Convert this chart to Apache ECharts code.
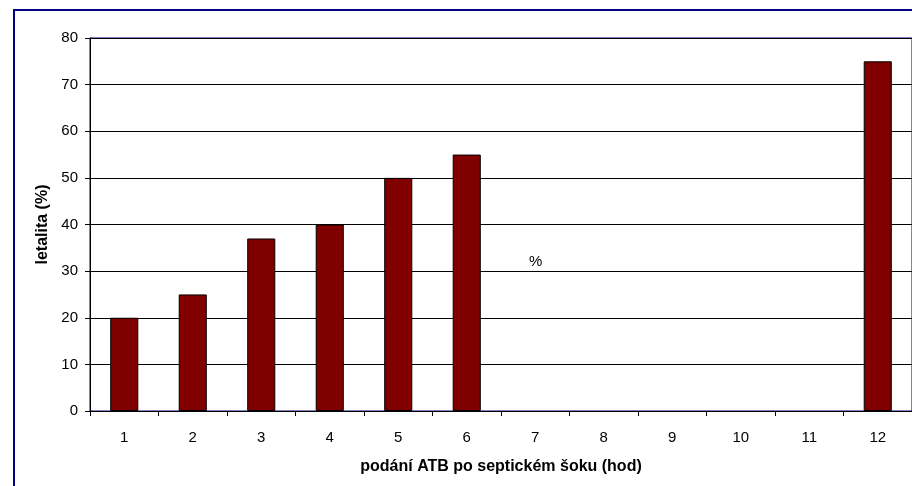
<!DOCTYPE html>
<html><head><meta charset="utf-8">
<script src="https://cdn.jsdelivr.net/npm/echarts@6/dist/echarts.min.js"></script>
<style>html,body{margin:0;padding:0;background:#fff}#c{width:912px;height:486px}</style>
</head><body><div id="c"></div>
<script>
const categories = ['1','2','3','4','5','6','7','8','9','10','11','12'];
const letalita = [20, 25, 37, 40, 50, 55, 0, 0, 0, 0, 0, 75];
const yTicks = {min: 0, max: 80, interval: 10};
const xName = 'podání ATB po septickém šoku (hod)';
const yName = 'letalita (%)';
const strayLabel = '%';

const chart = echarts.init(document.getElementById('c'), null, {renderer: 'canvas'});
const font = 'Liberation Sans, Arial, sans-serif';
const barData = letalita.map(v => v === 0
  ? {value: v, itemStyle: {borderWidth: 0}}
  : {value: v});
chart.setOption({
  animation: false,
  backgroundColor: '#fff',
  grid: {left: 90, top: 38, width: 825, height: 373, show: true, borderColor: '#000080', borderWidth: 1, backgroundColor: 'transparent'},
  graphic: [
    {type: 'rect', shape: {x: 14, y: 10, width: 920, height: 500}, style: {fill: 'none', stroke: '#000080', lineWidth: 2}, z: 100},
    {type: 'text', left: 529, top: 254, style: {text: strayLabel, font: '15px ' + font, fill: '#000'}, z: 100}
  ],
  xAxis: {
    type: 'category', data: categories, z: 5,
    name: xName, nameLocation: 'middle', nameGap: 48,
    nameTextStyle: {fontFamily: font, fontSize: 16, fontWeight: 'bold', color: '#000'},
    axisLine: {show: true, lineStyle: {color: '#000', width: 1}},
    axisTick: {show: true, alignWithLabel: false, length: 5, lineStyle: {color: '#000'}},
    axisLabel: {fontFamily: font, fontSize: 15, color: '#000', margin: 19},
    splitLine: {show: false}
  },
  yAxis: {
    type: 'value', min: yTicks.min, max: yTicks.max, interval: yTicks.interval, z: 5,
    name: yName, nameLocation: 'middle', nameGap: 38, nameRotate: 90,
    nameTextStyle: {fontFamily: font, fontSize: 16, fontWeight: 'bold', color: '#000'},
    axisLine: {show: true, lineStyle: {color: '#000', width: 1}},
    axisTick: {show: true, length: 5, lineStyle: {color: '#000'}},
    axisLabel: {fontFamily: font, fontSize: 15, color: '#000', margin: 12},
    splitLine: {show: true, lineStyle: {color: '#000', width: 1}}
  },
  series: [{
    type: 'bar', data: barData, barWidth: '41%', z: 10,
    itemStyle: {color: '#800000', borderColor: '#000', borderWidth: 1}
  }]
});
</script></body></html>
